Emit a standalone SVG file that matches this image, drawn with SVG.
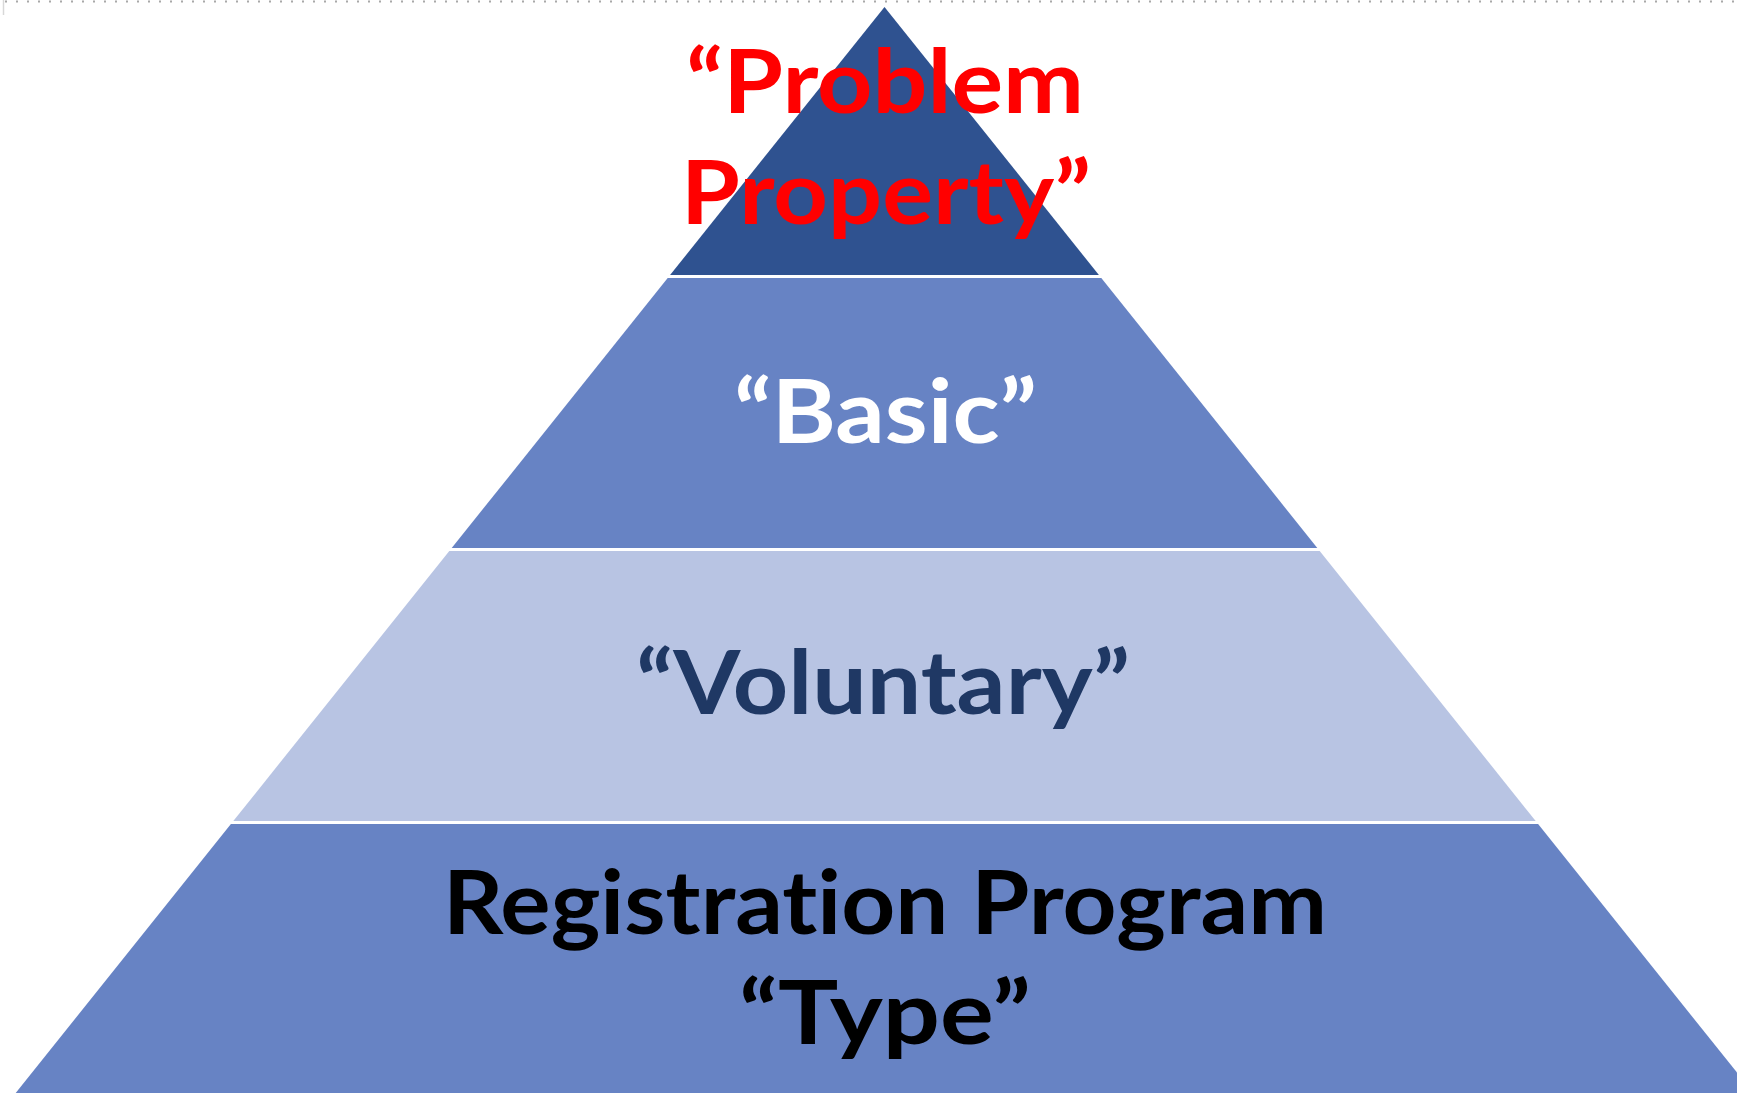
<svg xmlns="http://www.w3.org/2000/svg" width="1737" height="1093" viewBox="0 0 1737 1093">
<style>
.lbl{font-family:Lato,"Open Sans","Liberation Sans",sans-serif;font-weight:bold;font-size:88px;text-anchor:middle;font-variant-ligatures:none;font-feature-settings:"liga" 0,"clig" 0}
.dark{fill:#2F5290}
.mid{fill:#6783C4}
.light{fill:#B8C4E3}
</style>
<rect width="1737" height="1093" fill="#FFFFFF"/>
<line x1="5" y1="1.5" x2="1737" y2="1.5" stroke="#A8A8A8" stroke-width="2" stroke-dasharray="2 9"/>
<line x1="3.5" y1="0" x2="3.5" y2="15" stroke="#D8D8D8" stroke-width="1.5"/>
<g id="level-top">
<polygon class="dark" points="884.5,7 1098.9,275 670.1,275"/>
<text class="lbl" x="885" y="113" fill="#FF0000" textLength="398" lengthAdjust="spacingAndGlyphs">“Problem</text>
<text class="lbl" x="886" y="224" fill="#FF0000" textLength="410" lengthAdjust="spacingAndGlyphs">Property”</text>
</g>
<g id="level-basic">
<polygon class="mid" points="667.7,278 1101.3,278 1317.3,548 451.7,548"/>
<text class="lbl" x="885.5" y="443" fill="#FFFFFF" textLength="303" lengthAdjust="spacingAndGlyphs">“Basic”</text>
</g>
<g id="level-voluntary">
<polygon class="light" points="449.3,551 1319.7,551 1535.7,821 233.3,821"/>
<text class="lbl" x="883" y="714" fill="#1F3864" textLength="494" lengthAdjust="spacingAndGlyphs">“Voluntary”</text>
</g>
<g id="level-registration">
<polygon class="mid" points="230.9,824 1538.1,824 1758.9,1100 10.1,1100"/>
<text class="lbl" x="885" y="934" fill="#000000" textLength="884" lengthAdjust="spacingAndGlyphs">Registration Program</text>
<text class="lbl" x="885" y="1044" fill="#000000" textLength="292" lengthAdjust="spacingAndGlyphs">“Type”</text>
</g>
<g id="connectors"></g>
</svg>
